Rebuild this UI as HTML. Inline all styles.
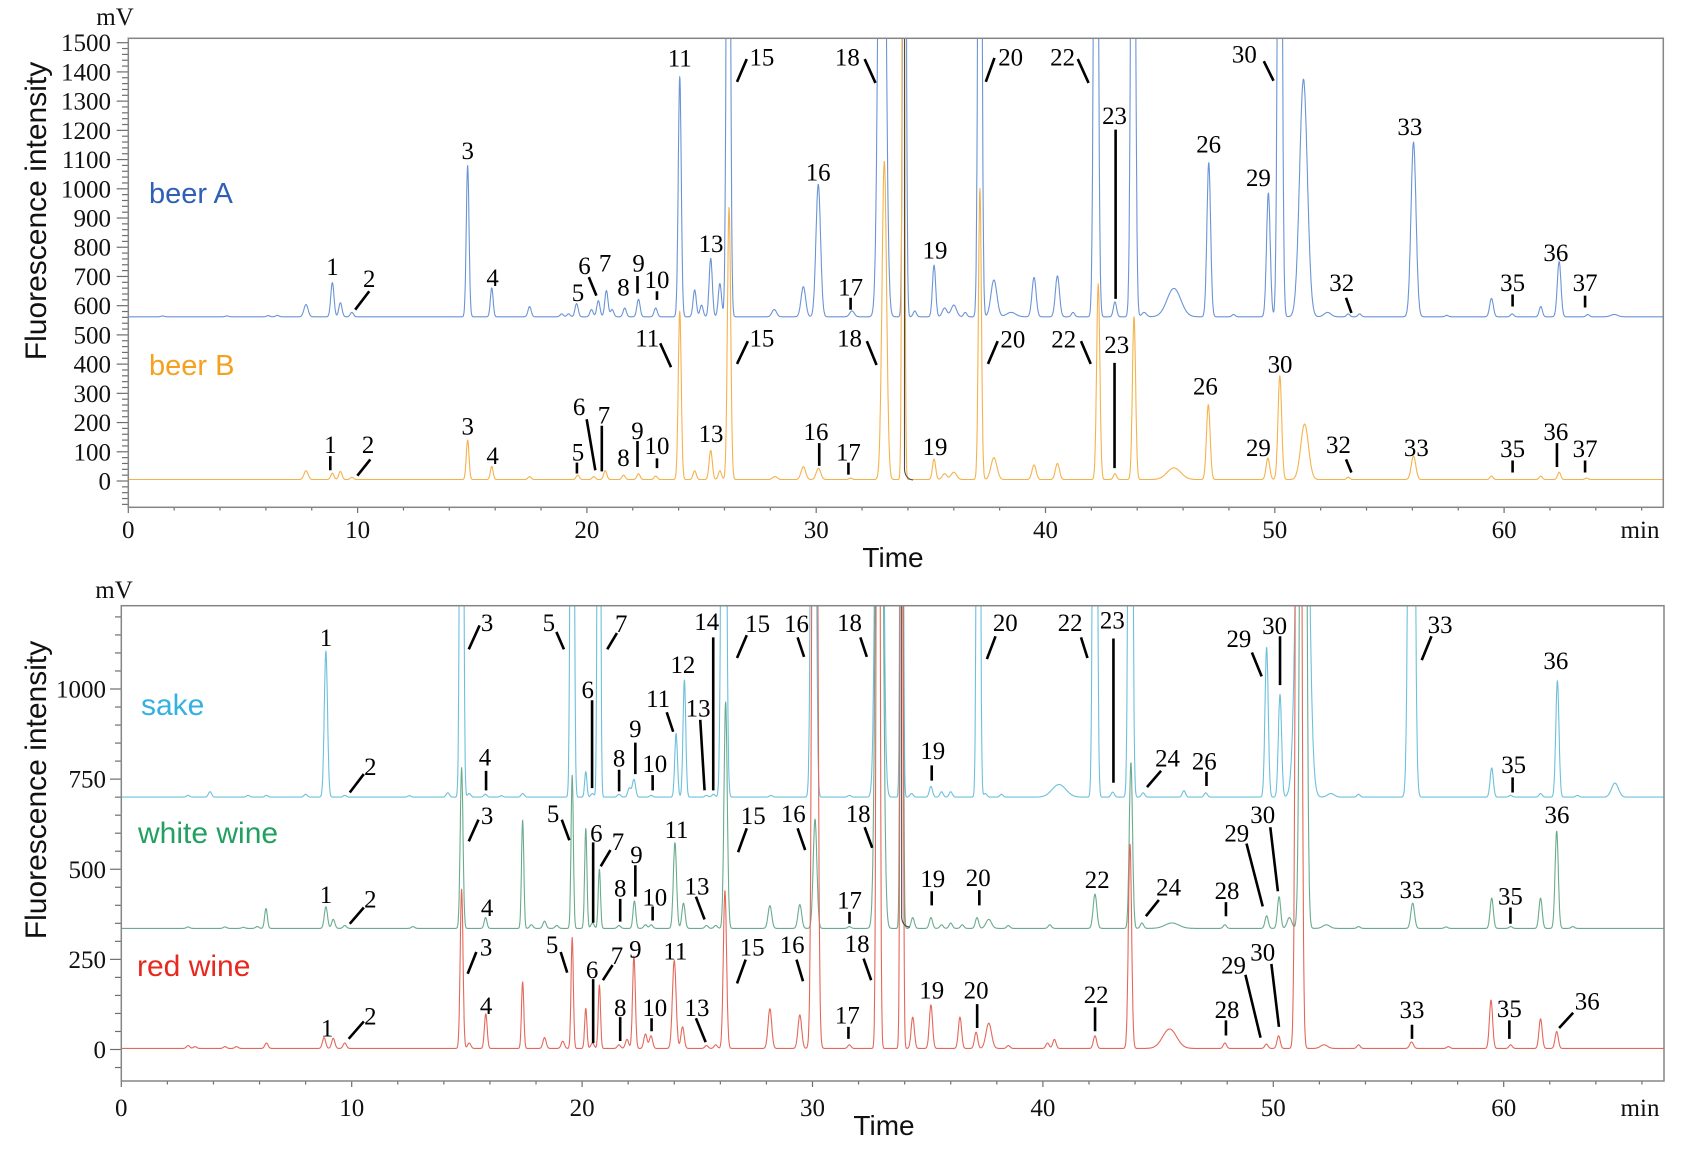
<!DOCTYPE html>
<html><head><meta charset="utf-8"><style>html,body{margin:0;padding:0;background:#fff}svg{display:block}</style></head>
<body>
<svg id="s" xmlns="http://www.w3.org/2000/svg" width="1696" height="1155" viewBox="0 0 1696 1155">
<defs>
<clipPath id="ct"><rect x="128.3" y="38.3" width="1535" height="469"/></clipPath>
<clipPath id="cb"><rect x="121.3" y="605.7" width="1542.7" height="475.3"/></clipPath>
</defs>
<rect x="0" y="0" width="1696" height="1155" fill="#fff"/>
<g id="gt" clip-path="url(#ct)"></g>
<g id="gb" clip-path="url(#cb)"></g>
<path d="M904.5,38.3 L904.5,470 Q905.5,479 913,480" fill="none" stroke="#4a4a4a" stroke-width="1.1"/>
<path d="M901.7,605.7 L901.7,918 Q903,927 910,927" fill="none" stroke="#4a4a4a" stroke-width="1.1"/>
<g id="ticks" stroke="#6e6e6e" stroke-width="1.2"></g>
<rect x="128.3" y="38.3" width="1535" height="469" fill="none" stroke="#858585" stroke-width="1.5"/>
<rect x="121.3" y="605.7" width="1542.7" height="475.3" fill="none" stroke="#858585" stroke-width="1.5"/>

<g font-family="'Liberation Serif','Times New Roman',serif" font-size="25" fill="#111">
<text x="115" y="25" text-anchor="middle">mV</text>
<text x="114" y="598" text-anchor="middle">mV</text>
<g text-anchor="end">
<text x="111" y="489.5">0</text><text x="111" y="460.3">100</text><text x="111" y="431.1">200</text><text x="111" y="401.8">300</text>
<text x="111" y="372.6">400</text><text x="111" y="343.4">500</text><text x="111" y="314.2">600</text><text x="111" y="285">700</text>
<text x="111" y="255.7">800</text><text x="111" y="226.5">900</text><text x="111" y="197.3">1000</text><text x="111" y="168.1">1100</text>
<text x="111" y="138.9">1200</text><text x="111" y="109.6">1300</text><text x="111" y="80.4">1400</text><text x="111" y="51.2">1500</text>
<text x="106" y="1058">0</text><text x="106" y="967.9">250</text><text x="106" y="877.8">500</text><text x="106" y="787.6">750</text><text x="106" y="697.5">1000</text>
</g>
<g text-anchor="middle">
<text x="128.3" y="538">0</text><text x="357.6" y="538">10</text><text x="586.9" y="538">20</text><text x="816.2" y="538">30</text>
<text x="1045.5" y="538">40</text><text x="1274.8" y="538">50</text><text x="1504.1" y="538">60</text><text x="1640" y="538">min</text>
<text x="121.3" y="1116">0</text><text x="351.7" y="1116">10</text><text x="582.1" y="1116">20</text><text x="812.5" y="1116">30</text>
<text x="1042.9" y="1116">40</text><text x="1273.3" y="1116">50</text><text x="1503.7" y="1116">60</text><text x="1640" y="1116">min</text>
</g>
</g>

<g font-family="'Liberation Sans',Arial,sans-serif">
<text x="893" y="567" font-size="28" text-anchor="middle" fill="#111">Time</text>
<text x="884" y="1135" font-size="28" text-anchor="middle" fill="#111">Time</text>
<text transform="translate(46,211) rotate(-90)" font-size="30" text-anchor="middle" fill="#111">Fluorescence intensity</text>
<text transform="translate(46,790) rotate(-90)" font-size="30" text-anchor="middle" fill="#111">Fluorescence intensity</text>
<text x="149" y="203" font-size="29" fill="#2f5fb6">beer A</text>
<text x="149" y="375" font-size="29" fill="#f5a11e">beer B</text>
<text x="141" y="715" font-size="30" fill="#33b1e0">sake</text>
<text x="138" y="843" font-size="30" fill="#22a060">white wine</text>
<text x="137" y="976" font-size="30" fill="#e8281e">red wine</text>
</g>

<g transform="translate(-0.7,-1.7) scale(1.0817,1.085)">
<g font-family="'Liberation Serif','Times New Roman',serif" font-size="23" fill="#000" text-anchor="middle">
<!-- beer A -->
<text x="308" y="255">1</text><text x="342" y="266">2</text><text x="433" y="148">3</text><text x="456" y="265">4</text>
<text x="535" y="279">5</text><text x="541" y="254">6</text><text x="560" y="252">7</text><text x="577" y="274">8</text>
<text x="591" y="252">9</text><text x="608" y="267">10</text><text x="629" y="63">11</text><text x="658" y="234">13</text>
<text x="705" y="62">15</text><text x="757" y="168">16</text><text x="787" y="274">17</text><text x="784" y="62">18</text>
<text x="865" y="240">19</text><text x="935" y="62">20</text><text x="983" y="62">22</text><text x="1031" y="116">23</text>
<text x="1118" y="142">26</text><text x="1164" y="173">29</text><text x="1151" y="59">30</text><text x="1241" y="270">32</text>
<text x="1304" y="126">33</text><text x="1399" y="270">35</text><text x="1439" y="242">36</text><text x="1466" y="270">37</text>
<!-- beer B -->
<text x="306" y="419">1</text><text x="341" y="419">2</text><text x="433" y="402">3</text><text x="456" y="429">4</text>
<text x="535" y="426">5</text><text x="536" y="384">6</text><text x="559" y="392">7</text><text x="577" y="431">8</text>
<text x="590" y="406">9</text><text x="608" y="420">10</text><text x="599" y="321">11</text><text x="658" y="409">13</text>
<text x="705" y="321">15</text><text x="755" y="407">16</text><text x="785" y="426">17</text><text x="786" y="321">18</text>
<text x="865" y="421">19</text><text x="937" y="322">20</text><text x="984" y="322">22</text><text x="1033" y="327">23</text>
<text x="1115" y="365">26</text><text x="1164" y="422">29</text><text x="1184" y="345">30</text><text x="1238" y="419">32</text>
<text x="1310" y="422">33</text><text x="1399" y="423">35</text><text x="1439" y="407">36</text><text x="1466" y="423">37</text>
<!-- sake -->
<text x="302" y="597">1</text><text x="343" y="716">2</text><text x="451" y="583">3</text><text x="449" y="707">4</text>
<text x="508" y="583">5</text><text x="544" y="645">6</text><text x="575" y="584">7</text><text x="573" y="708">8</text>
<text x="588" y="681">9</text><text x="606" y="713">10</text><text x="609" y="653">11</text><text x="632" y="622">12</text>
<text x="646" y="662">13</text><text x="654" y="582">14</text><text x="701" y="584">15</text><text x="737" y="584">16</text>
<text x="786" y="583">18</text><text x="863" y="701">19</text><text x="930" y="583">20</text><text x="990" y="583">22</text>
<text x="1029" y="581">23</text><text x="1080" y="708">24</text><text x="1114" y="711">26</text><text x="1146" y="598">29</text>
<text x="1179" y="586">30</text><text x="1332" y="585">33</text><text x="1400" y="714">35</text><text x="1439" y="618">36</text>
<!-- white wine -->
<text x="302" y="834">1</text><text x="343" y="838">2</text><text x="451" y="761">3</text><text x="451" y="846">4</text>
<text x="512" y="759">5</text><text x="552" y="777">6</text><text x="572" y="785">7</text><text x="574" y="828">8</text>
<text x="589" y="797">9</text><text x="606" y="836">10</text><text x="626" y="774">11</text><text x="645" y="826">13</text>
<text x="697" y="761">15</text><text x="734" y="759">16</text><text x="786" y="839">17</text><text x="794" y="759">18</text>
<text x="863" y="819">19</text><text x="905" y="818">20</text><text x="1015" y="820">22</text><text x="1081" y="827">24</text>
<text x="1135" y="830">28</text><text x="1144" y="777">29</text><text x="1168" y="760">30</text><text x="1306" y="829">33</text>
<text x="1397" y="835">35</text><text x="1440" y="760">36</text>
<!-- red wine -->
<text x="303" y="957">1</text><text x="343" y="946">2</text><text x="450" y="882">3</text><text x="450" y="936">4</text>
<text x="511" y="880">5</text><text x="548" y="903">6</text><text x="571" y="890">7</text><text x="574" y="938">8</text>
<text x="588" y="884">9</text><text x="606" y="938">10</text><text x="625" y="886">11</text><text x="645" y="938">13</text>
<text x="696" y="882">15</text><text x="733" y="880">16</text><text x="784" y="945">17</text><text x="793" y="879">18</text>
<text x="862" y="922">19</text><text x="903" y="922">20</text><text x="1014" y="926">22</text><text x="1135" y="940">28</text>
<text x="1141" y="899">29</text><text x="1168" y="887">30</text><text x="1306" y="940">33</text><text x="1396" y="939">35</text>
<text x="1468" y="932">36</text>
</g>
<path fill="none" stroke="#000" stroke-width="2.4" d="
M329,287L342,270 M545,257L552,274 M590,256L590,272 M608,270L608,278 M682,77L691,56 M787,276L787,287
M800,56L810,78 M920,55L912,77 M997,56L1007,78 M1032,121L1032,277 M1169,58L1178,76 M1245,276L1250,290
M1399,273L1399,284 M1466,274L1466,285
M306,422L306,435 M331,440L343,425 M534,428L534,438 M543,388L551,435 M557,394L557,436 M590,408L590,432
M608,424L608,433 M611,318L621,340 M682,337L692,316 M758,410L758,431 M785,428L785,439 M802,316L811,338
M923,316L914,337 M1000,316L1009,337 M1031,336L1031,433 M1245,425L1250,437 M1399,426L1399,437
M1440,410L1440,432 M1466,426L1466,437
M324,732L337,715 M434,600L444,578 M450,712L450,730 M515,584L522,600 M548,647L548,728 M571,585L562,600
M573,711L573,731 M588,686L588,715 M604,716L604,730 M617,658L623,676 M648,665L652,730 M660,589L660,730
M691,587L682,608 M738,589L744,607 M796,589L802,607 M862,707L862,721 M921,588L913,609 M1000,589L1006,608
M1030,590L1030,723 M1074,712L1061,727 M1116,713L1116,726 M1158,603L1167,625 M1184,588L1184,633
M1324,588L1315,610 M1399,718L1399,732
M324,853L337,838 M443,757L434,777 M520,757L527,776 M549,778L549,852 M565,785L556,800 M574,830L574,851
M588,799L588,828 M604,837L604,850 M644,828L652,849 M691,765L683,787 M738,765L745,785 M786,842L786,853
M800,764L807,783 M862,823L862,836 M906,822L906,836 M1072,831L1060,846 M1134,833L1134,846
M1153,779L1168,837 M1175,764L1182,823 M1397,838L1397,853
M323,959L337,943 M441,879L433,899 M519,879L525,898 M549,904L549,963 M567,891L558,905 M574,939L574,961
M603,940L603,952 M644,940L653,962 M690,886L682,908 M737,886L743,906 M785,948L785,959 M799,885L806,905
M904,927L904,949 M1013,930L1013,952 M1134,942L1134,956 M1152,900L1166,958 M1176,890L1183,948
M1306,946L1306,959 M1396,942L1396,959 M1442,949L1455,935"/>
</g>
</svg>
<script>
(function(){
var NS='http://www.w3.org/2000/svg';
function add(p,tag,a){var e=document.createElementNS(NS,tag);for(var k in a)e.setAttribute(k,a[k]);p.appendChild(e);return e;}
var T={x0:128.3,kx:22.93,y0:481,ky:0.2922,tmax:66.95};
var B={x0:121.3,kx:23.04,y0:1049.5,ky:0.3605,tmax:66.95};
function tr(pn,base,pk,col,g){
  var d='';
  for(var i=0;;i++){var t=i*0.012;if(t>pn.tmax)break;
    var v=base;
    for(var j=0;j<pk.length;j++){var p=pk[j];var s=p[2]||0.07;var z=(t-p[0])/s;if(z>-6&&z<6)v+=p[1]*Math.exp(-0.5*z*z);}
    var x=pn.x0+pn.kx*t,y=pn.y0-pn.ky*v;if(y<-50)y=-50;
    d+=(i?'L':'M')+x.toFixed(1)+','+y.toFixed(1);
  }
  add(g,'path',{d:d,fill:'none',stroke:col,'stroke-width':1.1,'stroke-linejoin':'round'});
}
var gt=document.getElementById('gt'),gb=document.getElementById('gb');
var beerA=[[1.5,3],[4.3,3],[6.1,4],[6.5,5],[7.75,42,0.09],[8.9,117],[9.25,48],[9.75,15],[14.8,519,0.06],[15.85,99,0.06],[17.5,35],[18.9,10],[19.2,10],[19.55,45],[20.2,25],[20.5,55],[20.85,90],[21.1,25],[21.65,30],[22.25,60],[23.0,30],
[24.05,822,0.065],[24.7,92],[25.0,40],[25.4,200],[25.8,114],[26.17,3000,0.07],[28.17,25,0.1],[29.44,103,0.1],[30.09,454,0.1],[31.56,20,0.1],
[32.87,3000,0.13],[33.85,3000,0.06],[34.3,20],[35.14,177,0.07],[35.6,30,0.1],[36.0,40,0.12],[36.5,15],[37.14,3000,0.07],[37.75,126,0.13],[38.5,15,0.2],[39.5,135,0.09],[40.52,140,0.09],[41.2,15],
[42.2,3000,0.08],[43.03,51],[43.82,3000,0.08],[44.3,15,0.1],[45.6,97,0.3],[47.12,528,0.08],[48.2,8],[49.72,424,0.08],[50.22,3000,0.08],[51.25,813,0.17],[52.3,15,0.15],[53.2,10],[53.7,10],[56.05,598,0.11],[57.5,5],[59.45,63,0.08],[60.35,10],[61.6,35],[62.4,189,0.08],[63.65,8],[64.8,8,0.15]];
var beerB=[[7.75,30,0.09],[8.9,22],[9.25,28],[9.75,8],[14.8,135,0.06],[15.85,45,0.06],[17.5,10],[19.6,15],[20.3,10],[20.8,30],[21.6,15],[22.25,20],[23.0,12],[24.05,576,0.065],[24.7,30],[25.4,100],[25.8,30],[26.2,933,0.07],[28.2,10,0.1],[29.44,44,0.1],[30.1,38,0.1],[31.5,5],[32.97,1090,0.1],[33.8,3000,0.05],[35.14,70],[35.6,20,0.1],[36.0,25,0.12],[37.14,996,0.065],[37.75,75,0.13],[39.5,50,0.09],[40.52,55,0.09],[42.3,670,0.07],[43.03,20],[43.86,557,0.07],[45.6,40,0.3],[47.1,256,0.08],[49.7,73,0.08],[50.22,355,0.08],[51.3,190,0.17],[53.2,8],[56.05,80,0.1],[59.45,12],[61.6,12],[62.4,25],[63.6,5]];
var sake=[[2.9,5],[3.85,15],[5.5,5],[6.3,5],[8.0,8],[8.88,405,0.07],[9.7,5],[12.5,4],[14.17,12],[14.77,3000,0.06],[15.1,10],[15.8,8],[16.5,4],[17.42,10],[19.57,3000,0.06],[20.16,71,0.05],[20.45,10],[20.73,3000,0.05],[21.6,8],[22.05,25],[22.25,49],[23.0,5],[24.08,177,0.06],[24.44,325,0.06],[25.4,5],[25.7,8],[26.15,3000,0.08],[28.2,5],[30.04,3000,0.08],[31.6,5],[32.9,3000,0.12],[33.87,3000,0.05],[34.3,10],[35.14,30],[35.6,15],[36.0,15],[37.2,3000,0.06],[37.5,10],[38.2,8],[40.7,35,0.3],[42.26,3000,0.07],[43.03,14],[43.8,3000,0.07],[44.35,12],[46.12,18],[47.07,12],[49.71,416,0.07],[50.29,285,0.07],[51.27,2100,0.2],[52.5,10,0.15],[53.7,8],[56.0,3000,0.1],[59.48,81,0.07],[60.3,5],[61.6,10],[62.33,323,0.07],[63.2,5],[64.83,39,0.15]];
var white=[[2.9,4],[4.5,4],[5.3,3],[5.9,5],[6.28,55,0.06],[8.88,60],[9.2,25],[9.7,8],[12.66,5],[14.77,446,0.06],[15.81,30,0.06],[17.42,301,0.05],[17.8,10],[18.37,20],[18.9,8],[19.57,425,0.05],[20.16,277,0.05],[20.45,15],[20.75,164,0.05],[21.6,8],[22.27,76,0.06],[22.75,10],[23.0,10],[24.03,238],[24.4,70],[25.4,8],[25.8,8],[26.23,628],[28.15,63,0.08],[29.45,66,0.08],[30.11,303,0.08],[31.6,5],[32.9,3000,0.12],[33.87,3000,0.05],[34.35,30],[35.14,30],[35.6,10],[36.0,15],[36.5,10],[37.14,30],[37.65,25,0.12],[38.5,8],[40.3,10],[42.26,95,0.08],[43.82,460],[44.3,15],[45.6,15,0.3],[47.9,10],[49.71,35],[50.25,88],[50.7,30,0.1],[51.3,4000,0.1],[52.3,10,0.15],[53.7,5],[56.05,70,0.08],[57.5,4],[59.48,84],[60.3,5],[61.6,84],[62.3,270],[63.0,5]];
var red=[[2.9,8],[3.2,5],[4.5,5],[5.0,5],[6.3,15],[8.8,30],[9.2,28],[9.7,15],[14.77,442,0.06],[15.1,15],[15.82,96,0.06],[17.42,185,0.05],[18.37,30],[19.16,20],[19.57,308,0.05],[20.16,111,0.05],[20.45,15],[20.75,176,0.05],[21.6,10],[21.95,25],[22.25,256,0.06],[22.75,40],[22.99,35],[24.0,244,0.08],[24.36,60],[25.4,8],[25.8,10],[26.2,438],[28.15,110,0.08],[29.45,93,0.08],[30.1,4000,0.09],[31.6,10],[32.85,4000,0.06],[33.87,3000,0.05],[34.35,87],[35.14,121],[36.4,87],[37.1,45],[37.65,70,0.12],[38.5,8],[40.2,15],[40.5,25],[42.26,35],[43.78,567],[45.5,54,0.3],[47.9,15],[49.7,12],[50.23,35],[51.1,5000,0.09],[52.2,10,0.15],[53.7,10],[56.0,18,0.08],[57.6,5],[59.45,134],[60.3,10],[61.6,82],[62.3,47]];
tr(T,562,beerA,'#6b94d6',gt);
tr(T,5,beerB,'#f5b24c',gt);
tr(B,700,sake,'#6cc0dc',gb);
tr(B,336,white,'#6aab8e',gb);
tr(B,3,red,'#e4685a',gb);
var tk=document.getElementById('ticks');
function ln(x1,y1,x2,y2){add(tk,'line',{x1:x1,y1:y1,x2:x2,y2:y2});}
for(var v=-80;v<=1500;v+=20){var y=481-0.2922*v;if(v>=0&&v%100==0)ln(116.7,y,128.3,y);else ln(122,y,128.3,y);}
for(var v=-50;v<=1200;v+=50){var y=1049.5-0.3605*v;if(v%250==0)ln(110,y,121.3,y);else ln(115,y,121.3,y);}
for(var t=0;t<=66;t+=2){var x=128.3+22.93*t;ln(x,507.3,x,t%10==0?513:510.5);var xb=121.3+23.04*t;ln(xb,1081,xb,t%10==0?1087:1084.5);}
})();
</script>
</body></html>
